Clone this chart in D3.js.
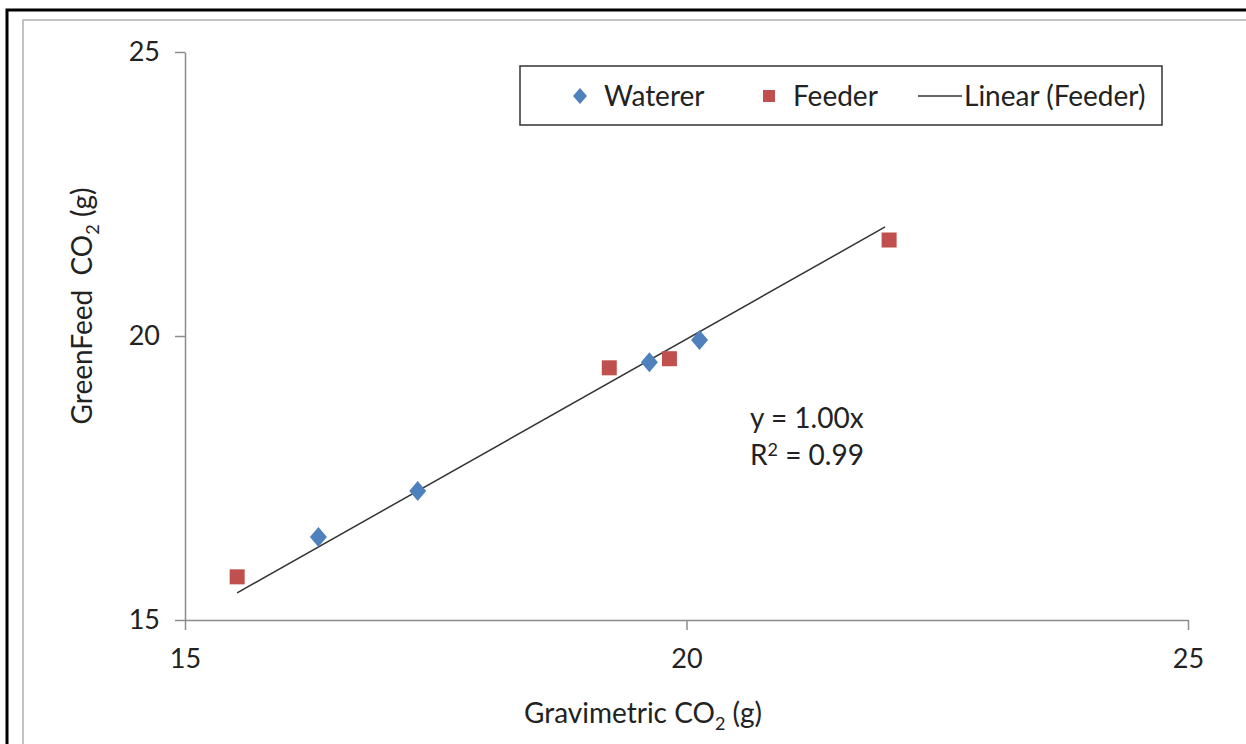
<!DOCTYPE html>
<html><head><meta charset="utf-8">
<script src="https://cdn.jsdelivr.net/npm/d3@7"></script>
<style>
html,body{margin:0;padding:0;background:#fff;}
svg{display:block;font-family:Lato,"Open Sans",sans-serif;}
</style></head>
<body>
<svg id="c" width="1246" height="744"></svg>
<script>
const xTicks = [15, 20, 25];
const yTicks = [15, 20, 25];
const watererX = [16.33, 17.32, 19.63, 20.13];
const watererY = [16.46, 17.27, 19.54, 19.93];
const feederX = [15.52, 19.23, 19.83, 22.02];
const feederY = [15.76, 19.44, 19.60, 21.69];
const legendLabels = ["Waterer", "Feeder", "Linear (Feeder)"];

const svg = d3.select("#c");
const blue = "#4F81BD", red = "#C0504D";
const FS = "27px", FL = "28px";

// outer frames
svg.append("rect").attr("x", 23).attr("y", 20).attr("width", 1300).attr("height", 800)
  .attr("fill", "none").attr("stroke", "#b0b0b0").attr("stroke-width", 1.5);
svg.append("rect").attr("x", 7).attr("y", 10).attr("width", 1300).attr("height", 800)
  .attr("fill", "none").attr("stroke", "#000").attr("stroke-width", 3);

const x = d3.scaleLinear().domain([15, 25]).range([185, 1188]);
const y = d3.scaleLinear().domain([15, 25]).range([620, 52]);

const axisColor = "#8c8c8c";
const gx = svg.append("g").attr("transform", "translate(0,620)")
  .call(d3.axisBottom(x).tickValues(xTicks).tickSize(10).tickPadding(19).tickSizeOuter(0));
const gy = svg.append("g").attr("transform", "translate(185,0)")
  .call(d3.axisLeft(y).tickValues(yTicks).tickSize(10).tickPadding(15).tickSizeOuter(0));
[gx, gy].forEach(g => {
  g.select(".domain").attr("stroke", axisColor).attr("stroke-width", 1.5);
  g.selectAll(".tick line").attr("stroke", axisColor).attr("stroke-width", 1.5);
  g.selectAll(".tick text").attr("fill", "#222").style("font-size", FS).style("font-family", "Lato, 'Open Sans', sans-serif");
});

// trendline: linear regression through origin on Feeder
let sxy = 0, sxx = 0;
feederX.forEach((v, i) => { sxy += v * feederY[i]; sxx += v * v; });
const slope = sxy / sxx;
const x0 = d3.min(feederX), x1 = d3.max(feederX) - 0.04;
svg.append("line")
  .attr("x1", x(x0)).attr("y1", y(slope * x0))
  .attr("x2", x(x1)).attr("y2", y(slope * x1))
  .attr("stroke", "#333").attr("stroke-width", 1.5);

// markers
const sq = 15, dm = 10;
svg.append("g").selectAll("rect").data(feederX).join("rect")
  .attr("x", (d) => x(d) - sq / 2).attr("y", (d, i) => y(feederY[i]) - sq / 2)
  .attr("width", sq).attr("height", sq).attr("fill", red);
svg.append("g").selectAll("path").data(watererX).join("path")
  .attr("d", (d, i) => {
    const cx = x(d), cy = y(watererY[i]);
    return `M${cx},${cy - dm}L${cx + dm * 0.85},${cy}L${cx},${cy + dm}L${cx - dm * 0.85},${cy}Z`;
  })
  .attr("fill", blue);

// equation
svg.append("text").attr("x", 750).attr("y", 428).attr("fill", "#222")
  .style("font-size", FL).text(`y = ${slope.toFixed(2)}x`);
const r2 = svg.append("text").attr("x", 750).attr("y", 465).attr("fill", "#222").style("font-size", FL);
r2.append("tspan").text("R");
r2.append("tspan").attr("dy", -9).style("font-size", "18px").text("2");
r2.append("tspan").attr("dy", 9).text(" = 0.99");

// axis titles
const xt = svg.append("text").attr("x", 643).attr("y", 723).attr("text-anchor", "middle")
  .attr("fill", "#222").style("font-size", FL);
xt.append("tspan").text("Gravimetric CO");
xt.append("tspan").attr("dy", 7).style("font-size", "18px").text("2");
xt.append("tspan").attr("dy", -7).text(" (g)");

const yt = svg.append("text").attr("transform", "translate(92,306) rotate(-90)")
  .attr("text-anchor", "middle").attr("fill", "#222").style("font-size", FL).style("white-space", "pre");
yt.append("tspan").text("GreenFeed  CO");
yt.append("tspan").attr("dy", 7).style("font-size", "18px").text("2");
yt.append("tspan").attr("dy", -7).text(" (g)");

// legend
svg.append("rect").attr("x", 520).attr("y", 66).attr("width", 642).attr("height", 59)
  .attr("fill", "#fff").attr("stroke", "#333").attr("stroke-width", 1.5);
const ly = 96;
svg.append("path").attr("d", `M580,${ly - 8}L587,${ly}L580,${ly + 8}L573,${ly}Z`).attr("fill", blue);
svg.append("rect").attr("x", 763).attr("y", ly - 6).attr("width", 12).attr("height", 12).attr("fill", red);
svg.append("line").attr("x1", 918).attr("x2", 962).attr("y1", ly).attr("y2", ly)
  .attr("stroke", "#333").attr("stroke-width", 1.5);
const lx = [604, 793, 964];
legendLabels.forEach((t, i) => {
  svg.append("text").attr("x", lx[i]).attr("y", ly + 10).attr("fill", "#222")
    .style("font-size", FL).text(t);
});
</script>
</body></html>
